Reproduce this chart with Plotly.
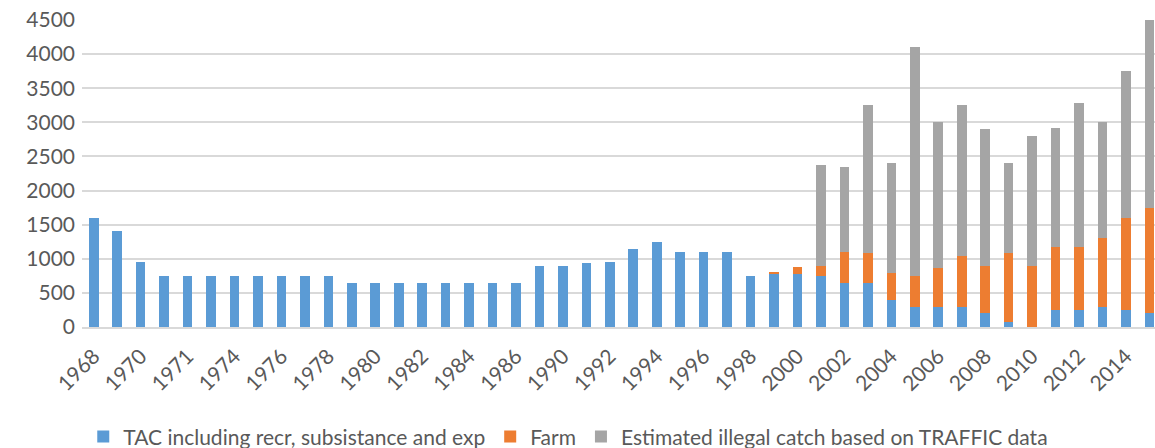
import plotly.graph_objects as go

# Season / year categories (only every second one is labelled on the axis)
categories = [
    "1968", "1969", "1970", "1970/71", "1971", "1972", "1974", "1975",
    "1976", "1977", "1978", "1979", "1980", "1981", "1982", "1983",
    "1984", "1985", "1986", "1988", "1990", "1991", "1992", "1993",
    "1994", "1995", "1996", "1997", "1998", "1999", "2000", "2001",
    "2002", "2003", "2004", "2005", "2006", "2007", "2008", "2009",
    "2010", "2011", "2012", "2013", "2014", "2015",
]

tac = [
    1600, 1400, 950, 750, 750, 750, 750, 750,
    750, 750, 750, 650, 650, 650, 650, 650,
    650, 650, 650, 900, 900, 935, 950, 1150,
    1250, 1100, 1100, 1100, 750, 780, 780, 750,
    640, 640, 400, 300, 300, 300, 200, 80,
    0, 250, 250, 300, 250, 200,
]

farm = [
    0, 0, 0, 0, 0, 0, 0, 0,
    0, 0, 0, 0, 0, 0, 0, 0,
    0, 0, 0, 0, 0, 0, 0, 0,
    0, 0, 0, 0, 0, 20, 95, 150,
    460, 440, 390, 450, 570, 740, 700, 1000,
    900, 925, 925, 1000, 1350, 1550,
]

illegal = [
    0, 0, 0, 0, 0, 0, 0, 0,
    0, 0, 0, 0, 0, 0, 0, 0,
    0, 0, 0, 0, 0, 0, 0, 0,
    0, 0, 0, 0, 0, 0, 0, 1480,
    1250, 2170, 1610, 3350, 2130, 2210, 2000, 1330,
    1900, 1735, 2105, 1700, 2150, 2750,
]

series_names = [
    "TAC including recr, subsistance and exp",
    "Farm",
    "Estimated illegal catch based on TRAFFIC data",
]
series_colors = ["#5B9BD5", "#ED7D31", "#A5A5A5"]

y_ticks = list(range(0, 4501, 500))
x_tick_vals = categories[::2]

FONT = "Lato, 'Open Sans', sans-serif"
TEXT_COLOR = "#595959"
GRID_COLOR = "#D9D9D9"

fig = go.Figure()
for name, values, color in zip(series_names, [tac, farm, illegal], series_colors):
    fig.add_trace(go.Bar(
        x=categories,
        y=values,
        name=name,
        marker=dict(color=color, line=dict(width=0)),
    ))

fig.update_layout(
    barmode="stack",
    bargap=0.59,
    width=1155,
    height=448,
    margin=dict(l=82, r=0, t=20, b=121),
    paper_bgcolor="white",
    plot_bgcolor="white",
    font=dict(family=FONT, size=21, color=TEXT_COLOR),
    xaxis=dict(
        type="category",
        categoryorder="array",
        categoryarray=categories,
        range=[-0.5, 45.24],
        tickmode="array",
        tickvals=x_tick_vals,
        ticktext=x_tick_vals,
        tickangle=-45,
        showgrid=False,
        showline=True,
        linecolor=GRID_COLOR,
        linewidth=1.5,
        ticks="",
        ticklabelstandoff=7,
        tickfont=dict(family=FONT, size=21, color=TEXT_COLOR),
    ),
    yaxis=dict(
        range=[0, 4500],
        tickmode="array",
        tickvals=y_ticks,
        showgrid=True,
        gridcolor=GRID_COLOR,
        gridwidth=1.5,
        zeroline=False,
        ticks="",
        ticklabelstandoff=6,
        tickfont=dict(family=FONT, size=21, color=TEXT_COLOR),
    ),
    legend=dict(
        orientation="h",
        xref="container",
        yref="container",
        x=0.492,
        xanchor="center",
        y=0.025,
        yanchor="middle",
        font=dict(family=FONT, size=21, color=TEXT_COLOR),
        traceorder="normal",
    ),
)

fig.write_html("out.html")
